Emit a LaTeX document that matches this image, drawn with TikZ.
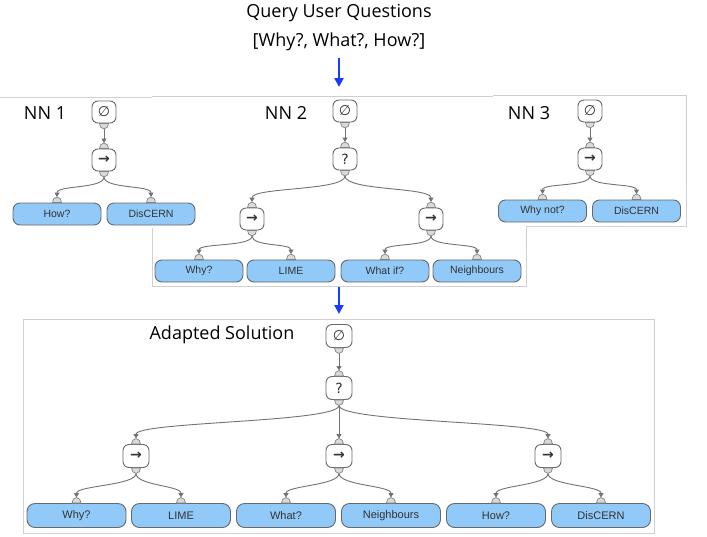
\documentclass[tikz,border=0pt]{standalone}
\usepackage{fontspec}
\setmainfont{Open Sans}
\newfontfamily\leaffont{Liberation Sans}
\newfontfamily\symfont{DejaVu Sans}
\usetikzlibrary{arrows.meta}
\definecolor{leafblue}{RGB}{145,202,248}
\definecolor{nodegray}{RGB}{105,105,105}
\definecolor{conngray}{RGB}{115,115,115}
\definecolor{portfill}{RGB}{218,218,218}
\definecolor{portdraw}{RGB}{130,130,130}
\definecolor{panelgray}{RGB}{208,208,208}
\definecolor{flowblue}{RGB}{25,60,250}
\newcommand\tport[1]{\draw[port] ([xshift=-4.5pt]#1.north) arc[start angle=180,end angle=0,x radius=4.5pt,y radius=5.5pt] -- cycle;}
\newcommand\bport[1]{\draw[port] ([xshift=-4.5pt]#1.south) arc[start angle=180,end angle=360,x radius=4.5pt,y radius=5.5pt] -- cycle;}
\newcommand\tlink[3]{\draw[conn] ([yshift=-5.5pt]#1.south) .. controls +(0,#3) and +(0,-#3) .. ([yshift=5.5pt]#2.north);}
\newcommand\slink[2]{\draw[conn] ([yshift=-5.5pt]#1.south) -- ([yshift=5.5pt]#2.north);}
\begin{document}
\begin{tikzpicture}[x=1pt,y=-1pt,
  ctrl/.style={draw=nodegray, fill=white, rounded corners=6pt, minimum width=24pt, minimum height=22pt, inner sep=0pt, line width=0.9pt, font=\symfont\fontsize{14}{14}\selectfont, text=black!80},
  bigctrl/.style={ctrl, minimum width=26pt, minimum height=23pt},
  leaf/.style={draw=nodegray, fill=leafblue, rounded corners=7pt, minimum width=88pt, minimum height=22pt, inner sep=0pt, line width=0.9pt, font=\leaffont\fontsize{10.5}{10.5}\selectfont, text=black!80},
  bigleaf/.style={leaf, minimum width=99pt, minimum height=24pt, rounded corners=8pt, font=\leaffont\fontsize{11}{11}\selectfont},
  conn/.style={draw=conngray, line width=0.9pt, -{Triangle[width=5pt,length=4.5pt]}},
  port/.style={draw=portdraw, fill=portfill, line width=0.7pt},
  panel/.style={draw=panelgray, line width=0.8pt},
  flow/.style={draw=flowblue, line width=2.6pt, -{Triangle[width=9pt,length=9pt]}},
  title/.style={font=\fontsize{18}{18}\selectfont, text=black}
]
\useasboundingbox (0,0) rectangle (707,536);
\fill[white] (0,0) rectangle (707,536);

% title
\node[title] (q1) at (339,13) {Query User Questions};
\node[title] (q2) at (339,42) {[Why?, What?, How?]};
\coordinate (a1s) at (339,58);
\coordinate (a1e) at (339,87);
\draw[flow] (a1s) -- (a1e);

% panels
\draw[panel] (152,96.5) rectangle (526,286);
\fill[white] (0,97) rectangle (152.6,228);
\draw[panel] (0,97) -- (152,97);
\fill[white] (493,95.2) rectangle (686,226);
\draw[panel] (493,95.2) -- (686,95.2) -- (686,226) -- (526,226);
\draw[panel] (23,319) rectangle (654,533);

% NN1
\node[title] (l1) at (45,113) {NN 1};
\node[ctrl] (a0) at (104,112) {∅};
\node[ctrl] (a1) at (104,160) {\bfseries →};
\node[leaf] (a2) at (57,214) {How?};
\node[leaf] (a3) at (151,214) {DisCERN};
\slink{a0}{a1}
\tlink{a1}{a2}{12}
\tlink{a1}{a3}{12}
\bport{a0}\tport{a1}\bport{a1}\tport{a2}\tport{a3}

% NN2
\node[title] (l2) at (286,113) {NN 2};
\node[ctrl] (b0) at (345,111) {∅};
\node[ctrl] (b1) at (345,159) {?};
\node[ctrl] (b2) at (252,219) {\bfseries →};
\node[ctrl] (b3) at (431,219) {\bfseries →};
\node[leaf] (b4) at (199,271) {Why?};
\node[leaf] (b5) at (291,271) {LIME};
\node[leaf] (b6) at (385,271) {What if?};
\node[leaf] (b7) at (477,271) {Neighbours};
\slink{b0}{b1}
\tlink{b1}{b2}{15}
\tlink{b1}{b3}{15}
\tlink{b2}{b4}{11}
\tlink{b2}{b5}{11}
\tlink{b3}{b6}{11}
\tlink{b3}{b7}{11}
\bport{b0}\tport{b1}\bport{b1}\tport{b2}\bport{b2}\tport{b3}\bport{b3}
\tport{b4}\tport{b5}\tport{b6}\tport{b7}

% NN3
\node[title] (l3) at (529,113) {NN 3};
\node[ctrl] (c0) at (590,111) {∅};
\node[ctrl] (c1) at (590,159) {\bfseries →};
\node[leaf] (c2) at (542.5,211) {Why not?};
\node[leaf] (c3) at (636.5,211) {DisCERN};
\slink{c0}{c1}
\tlink{c1}{c2}{11}
\tlink{c1}{c3}{11}
\bport{c0}\tport{c1}\bport{c1}\tport{c2}\tport{c3}

% arrow 2
\coordinate (a2s) at (339,287);
\coordinate (a2e) at (339,314);
\draw[flow] (a2s) -- (a2e);

% Adapted solution
\node[title] (l4) at (222,335) {Adapted Solution};
\node[bigctrl] (d0) at (339,336) {∅};
\node[bigctrl] (d1) at (339,388) {?};
\node[bigctrl] (d2) at (136,456) {\bfseries →};
\node[bigctrl] (d3) at (339,456) {\bfseries →};
\node[bigctrl] (d4) at (548,456) {\bfseries →};
\node[bigleaf] (d5) at (76.5,515.5) {Why?};
\node[bigleaf] (d6) at (181,515.5) {LIME};
\node[bigleaf] (d7) at (286,515.5) {What?};
\node[bigleaf] (d8) at (391,515.5) {Neighbours};
\node[bigleaf] (d9) at (496,515.5) {How?};
\node[bigleaf] (d10) at (601,515.5) {DisCERN};
\slink{d0}{d1}
\tlink{d1}{d2}{17}
\slink{d1}{d3}
\tlink{d1}{d4}{17}
\tlink{d2}{d5}{12}
\tlink{d2}{d6}{12}
\tlink{d3}{d7}{12}
\tlink{d3}{d8}{12}
\tlink{d4}{d9}{12}
\tlink{d4}{d10}{12}
\bport{d0}\tport{d1}\bport{d1}
\tport{d2}\bport{d2}\tport{d3}\bport{d3}\tport{d4}\bport{d4}
\tport{d5}\tport{d6}\tport{d7}\tport{d8}\tport{d9}\tport{d10}
\end{tikzpicture}
\end{document}
